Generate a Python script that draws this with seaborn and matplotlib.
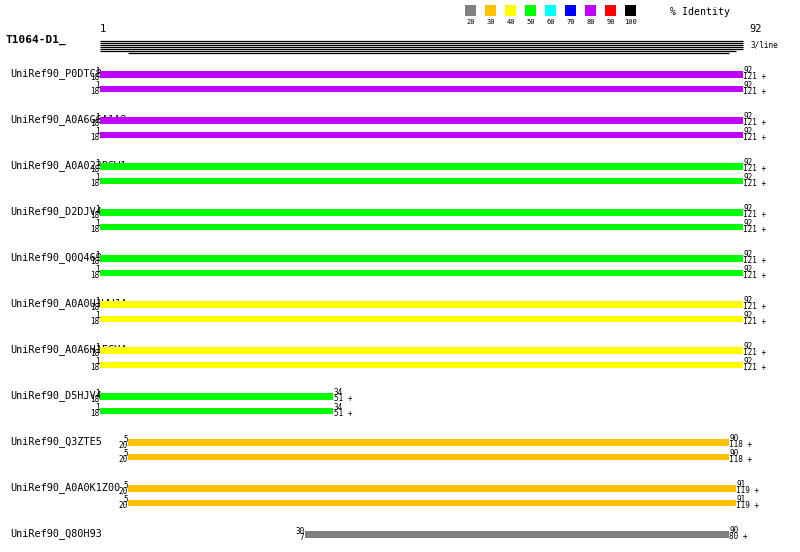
import matplotlib
matplotlib.use('Agg')
import matplotlib.pyplot as plt
import seaborn as sns
import pandas as pd

# query and identity legend
query_name = "T1064-D1_"
query_start = 1
query_end = 92
identity_levels = [20, 30, 40, 50, 60, 70, 80, 90, 100]
identity_colors = ["#808080", "#FFC000", "#FFFF00", "#00FF00", "#00FFFF",
                   "#0000FF", "#C000FF", "#FF0000", "#000000"]

# coverage lines under the query (3 sequences per line)
cover_start = [1, 1, 1, 1, 1, 1, 5]
cover_end = [92, 92, 92, 92, 92, 91, 90]

# hits
hit_names = ["UniRef90_P0DTC8", "UniRef90_A0A6G6A1A8", "UniRef90_A0A023PCW1",
             "UniRef90_D2DJV4", "UniRef90_Q0Q469", "UniRef90_A0A0U1WWJ4",
             "UniRef90_A0A6H1FCV4", "UniRef90_D5HJV4", "UniRef90_Q3ZTE5",
             "UniRef90_A0A0K1Z00", "UniRef90_Q80H93"]
hit_identity = [80, 80, 50, 50, 50, 40, 40, 50, 30, 30, 20]

# aligned segments
seg_hit = [0, 0, 1, 1, 2, 2, 3, 3, 4, 4, 5, 5, 6, 6, 7, 7, 8, 8, 9, 9, 10]
seg_qstart = [1] * 14 + [1, 1, 5, 5, 5, 5, 30]
seg_qend = [92] * 14 + [34, 34, 90, 90, 91, 91, 90]
seg_sstart = [18] * 14 + [18, 18, 20, 20, 20, 20, 7]
seg_send = [121] * 14 + [51, 51, 118, 118, 119, 119, 80]

segs = pd.DataFrame({"hit": seg_hit, "qstart": seg_qstart, "qend": seg_qend,
                     "sstart": seg_sstart, "send": seg_send})
segs["k"] = segs.groupby("hit").cumcount()
color_of = dict(zip(identity_levels, identity_colors))
segs["color"] = [color_of[hit_identity[h]] for h in segs["hit"]]

sns.set_theme(style="white")
plt.rcParams["font.family"] = ["DejaVu Sans Mono"]
plt.rcParams["text.color"] = "black"

W, H = 800, 552
fig = plt.figure(figsize=(W / 100, H / 100), dpi=100)
ax = fig.add_axes([0, 0, 1, 1])

# residue scale: residue 1 at px 100, residue 92 at px 743
scale = (743 - 100) / (query_end - query_start)


def px(x):
    return query_start + (x - 100) / scale


ax.set_xlim(px(0), px(W))
ax.set_ylim(H, 0)
ax.axis("off")

row0, row_step, seg_step = 74.5, 46, 14.5
small = 5.5

# hit names (drawn beneath the bars)
for i, name in enumerate(hit_names):
    ax.text(px(10), row0 + i * row_step - 0.5, name, fontsize=7.3,
            ha="left", va="center", zorder=1)

for _, s in segs.iterrows():
    y = row0 + s["hit"] * row_step + s["k"] * seg_step
    ax.barh(y, s["qend"] - s["qstart"], left=s["qstart"], height=6.5,
            color=s["color"], zorder=2, linewidth=0)
    ax.text(s["qstart"] - 0.05, y - 3, str(s["qstart"]), fontsize=small,
            ha="right", va="center", zorder=3)
    ax.text(s["qstart"] - 0.05, y + 3, str(s["sstart"]), fontsize=small,
            ha="right", va="center", zorder=3)
    ax.text(s["qend"] + 0.05, y - 4, str(s["qend"]), fontsize=small,
            ha="left", va="center", zorder=3)
    ax.text(s["qend"] + 0.05, y + 2, f"{s['send']} +", fontsize=small,
            ha="left", va="center", zorder=3)

# query header
ax.text(px(5), 40, query_name, fontsize=8, fontweight="bold",
        ha="left", va="center")
ax.text(query_start, 29, str(query_start), fontsize=7.5, ha="left", va="center")
ax.text(px(749), 29, str(query_end), fontsize=7.5, ha="left", va="center")
for j, (a, b) in enumerate(zip(cover_start, cover_end)):
    ax.hlines(41 + 2 * j, a, b, color="black", linewidth=0.9)
ax.text(px(750), 45.5, "3/line", fontsize=small, ha="left", va="center")

# identity legend
for j, (lvl, c) in enumerate(zip(identity_levels, identity_colors)):
    x0 = 465 + 20 * j
    ax.barh(10.5, px(x0 + 11) - px(x0), left=px(x0), height=11,
            color=c, linewidth=0)
    ax.text(px(x0 + 5.5), 21.5, str(lvl), fontsize=small - 0.5,
            ha="center", va="center")
ax.text(px(670), 12, "% Identity", fontsize=7.2, ha="left", va="center")

fig.savefig("out.png", dpi=100, facecolor="white")
plt.close(fig)
